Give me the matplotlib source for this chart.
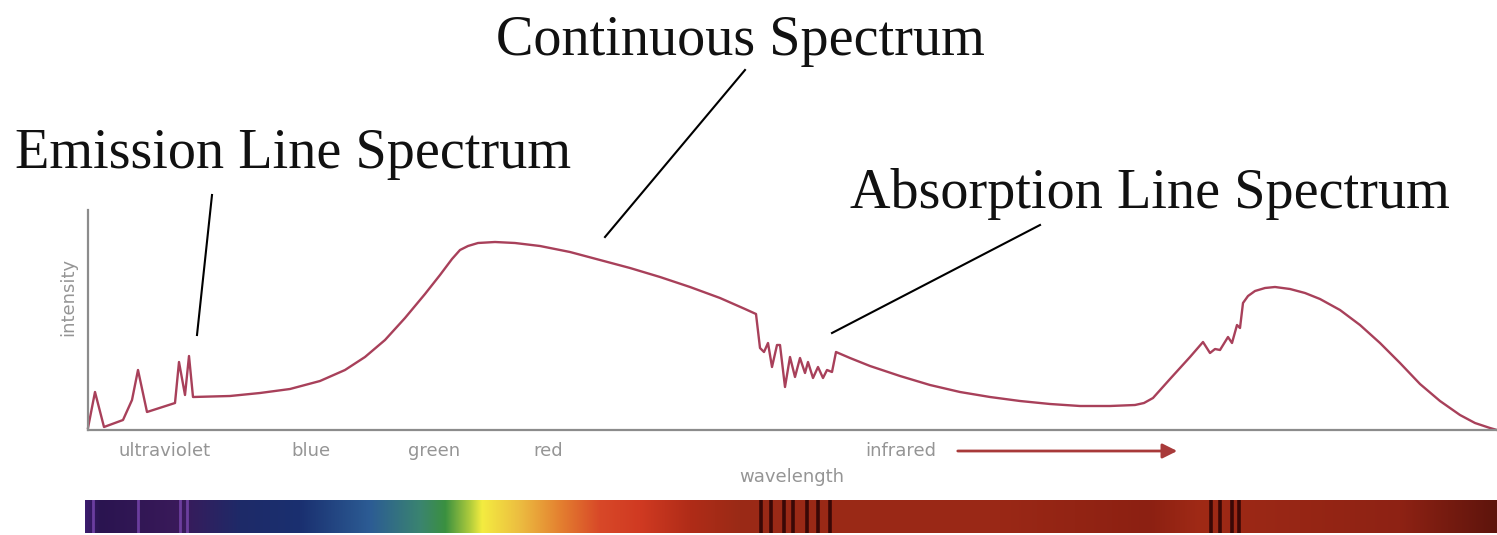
import numpy as np
import matplotlib
matplotlib.use("Agg")
import matplotlib.pyplot as plt
from matplotlib.colors import to_rgb

# ---------------- data (arbitrary wavelength units / intensity units) ----------------
wavelength = [0, 7, 16, 35, 44, 50, 59, 87, 91, 97, 101, 105,
              142, 172, 202, 232, 257, 277, 297, 317, 337, 352, 364, 372, 380, 390,
              407, 427, 452, 482, 512, 542, 572, 602, 632, 657, 668,
              672, 676, 680, 684, 689, 692, 697, 702, 707, 712, 717, 720, 725, 730, 735,
              739, 744,
              748, 762, 782, 812, 842, 872, 902, 932, 962, 992, 1022, 1047, 1056, 1065,
              1082, 1102,
              1115, 1122, 1127, 1132, 1140, 1144, 1149, 1152,
              1155, 1160, 1167, 1177, 1187, 1202, 1217, 1232, 1252, 1272, 1292, 1312,
              1332, 1352, 1372, 1387, 1402, 1409]
intensity = [2, 38, 3, 10, 30, 60, 18, 27, 68, 35, 74, 33,
             34, 37, 41, 49, 60, 73, 90, 112, 136, 155, 171, 180, 184, 187,
             188, 187, 184, 178, 170, 162, 153, 143, 132, 121, 116,
             82, 78, 87, 63, 85, 85, 43, 73, 53, 72, 57, 68, 52, 63, 52,
             60, 58,
             78, 72, 64, 54, 45, 38, 33, 29, 26, 24, 24, 25, 27, 32,
             51, 73,
             88, 77, 81, 80, 93, 87, 105, 102,
             127, 134, 139, 142, 143, 141, 137, 131, 120, 105, 87, 67,
             46, 29, 15, 7, 2, 0]

band_names = ["ultraviolet", "blue", "green", "red", "infrared"]
band_pos = [77, 223, 346, 460, 813]

emission_lines = [5, 50, 92, 99]
absorption_lines = [673, 683, 696, 705, 719, 730, 742, 1123, 1132, 1144, 1151]

# colour bar stops (wavelength position, colour)
bar_pos = [-3, 12, 92, 152, 212, 282, 332, 357, 382, 394, 432, 472, 512, 552,
           602, 652, 912, 1062, 1112, 1312, 1409]
bar_col = ["#3c1c6e", "#2a1450", "#3a1a5a", "#1e2a68", "#1a3070", "#2c5c94",
           "#3a8470", "#3a9040", "#b0cc3c", "#f4ec40", "#ecbc40", "#e48030",
           "#d84828", "#d03a22", "#b02c18", "#9a2a16", "#9a2816", "#8c2012",
           "#a02a16", "#8e2214", "#5e140c"]

W, H = 1497, 535
fig = plt.figure(figsize=(W / 100, H / 100), dpi=100)
fig.patch.set_facecolor("white")

# ---------------- main spectrum axes ----------------
ax = fig.add_axes([88 / W, (H - 430) / H, (W - 88) / W, 220 / H])
ax.set_xlim(0, 1409)
ax.set_ylim(0, 220)
for s in ["top", "right"]:
    ax.spines[s].set_visible(False)
for s in ["left", "bottom"]:
    ax.spines[s].set_color("#8c8c8c")
    ax.spines[s].set_linewidth(1.6)
ax.set_xticks([])
ax.set_yticks([])
ax.patch.set_alpha(0)

ax.plot(wavelength, intensity, color="#a8405a", lw=1.7, solid_joinstyle="round",
        clip_on=False)

# annotation pointer lines
ax.plot([124, 109], [235, 95], color="black", lw=1.5, clip_on=False)
ax.plot([657, 517], [360, 193], color="black", lw=1.5, clip_on=False)
ax.plot([952, 744], [205, 97], color="black", lw=1.5, clip_on=False)

lab_kw = dict(color="#959595", fontsize=13, family="DejaVu Sans", ha="center",
              va="center", clip_on=False)
ax.text(-20, 133, "intensity", rotation=90, **lab_kw)
for name, p in zip(band_names, band_pos):
    ax.text(p, -21, name, **lab_kw)
ax.text(704, -47, "wavelength", **lab_kw)
ax.annotate("", xy=(1092, -21), xytext=(867, -21),
            arrowprops=dict(arrowstyle="-|>", color="#a83a3a", lw=2,
                            mutation_scale=22),
            annotation_clip=False)

# ---------------- titles ----------------
tkw = dict(family="Liberation Serif", fontsize=40.5, color="#111111", va="baseline")
fig.text(740 / W, 1 - 55 / H, "Continuous Spectrum", ha="center", **tkw)
fig.text(15 / W, 1 - 168 / H, "Emission Line Spectrum", ha="left", **tkw)
fig.text(850 / W, 1 - 208 / H, "Absorption Line Spectrum", ha="left", **tkw)

# ---------------- colour bar ----------------
bax = fig.add_axes([85 / W, 2 / H, (W - 85) / W, 33 / H])
xs = np.linspace(-3, 1409, 1412)
rgb = np.array([to_rgb(c) for c in bar_col])
img = np.stack([np.interp(xs, bar_pos, rgb[:, k]) for k in range(3)], axis=-1)
bax.imshow(img[None, :, :], extent=[-3, 1409, 0, 1], aspect="auto")
for e in emission_lines:
    bax.axvline(e, color="#7a48b0", lw=2, alpha=0.8)
for a in absorption_lines:
    bax.axvline(a, color="#3a0806", lw=2.6)
bax.set_xlim(-3, 1409)
bax.set_ylim(0, 1)
bax.axis("off")

fig.savefig("out.png", dpi=100, facecolor="white")
